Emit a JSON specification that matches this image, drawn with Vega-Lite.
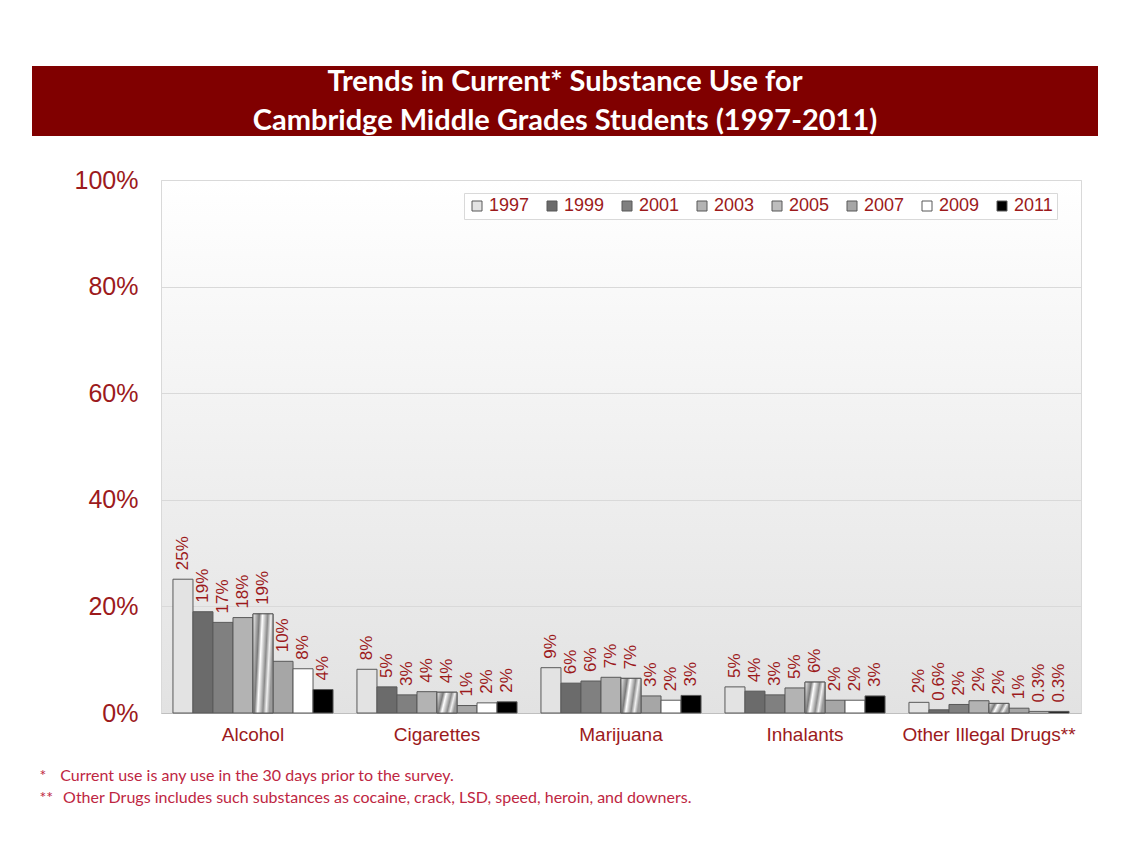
{
  "$schema": "https://vega.github.io/schema/vega-lite/v6.json",
  "background": "white",
  "padding": {"left": 32, "top": 66, "right": 0, "bottom": 0},
  "config": {"font": "Liberation Sans", "view": {"stroke": null}},
  "spacing": 31,
  "resolve": {"legend": {"color": "independent"}},
  "vconcat": [
    {
      "width": 1066,
      "height": 70,
      "view": {"fill": "#800000", "stroke": null},
      "data": {"values": [{"id": 1}]},
      "mark": {"type": "text", "font": "Lato", "fontWeight": "bold", "fontSize": 29, "color": "#ffffff", "lineHeight": 39, "baseline": "middle", "align": "center", "dy": -19},
      "encoding": {"text": {"value": ["Trends in Current* Substance Use for", "Cambridge Middle Grades Students (1997-2011)"]}}
    },
    {
      "spacing": 0,
      "resolve": {"legend": {"color": "independent"}},
      "hconcat": [
        {
          "width": 1,
          "height": 1,
          "view": {"stroke": null},
          "data": {"values": [{"id": 1}]},
          "mark": {"type": "point", "opacity": 0, "size": 0, "strokeWidth": 0}
        },
        {
          "width": 920,
          "height": 533,
          "view": {
            "fill": {"gradient": "linear", "x1": 0, "y1": 0, "x2": 0, "y2": 1, "stops": [{"offset": 0, "color": "#ffffff"}, {"offset": 1, "color": "#e2e2e2"}]},
            "stroke": "#d9d9d9"
          },
          "data": {"values": [
            {"substance": "Alcohol", "year": "1997", "value": 25.1, "label": "25%"},
            {"substance": "Alcohol", "year": "1999", "value": 19.0, "label": "19%"},
            {"substance": "Alcohol", "year": "2001", "value": 17.0, "label": "17%"},
            {"substance": "Alcohol", "year": "2003", "value": 17.9, "label": "18%"},
            {"substance": "Alcohol", "year": "2005", "value": 18.6, "label": "19%"},
            {"substance": "Alcohol", "year": "2007", "value": 9.7, "label": "10%"},
            {"substance": "Alcohol", "year": "2009", "value": 8.3, "label": "8%"},
            {"substance": "Alcohol", "year": "2011", "value": 4.4, "label": "4%"},
            {"substance": "Cigarettes", "year": "1997", "value": 8.2, "label": "8%"},
            {"substance": "Cigarettes", "year": "1999", "value": 4.9, "label": "5%"},
            {"substance": "Cigarettes", "year": "2001", "value": 3.4, "label": "3%"},
            {"substance": "Cigarettes", "year": "2003", "value": 4.0, "label": "4%"},
            {"substance": "Cigarettes", "year": "2005", "value": 3.9, "label": "4%"},
            {"substance": "Cigarettes", "year": "2007", "value": 1.4, "label": "1%"},
            {"substance": "Cigarettes", "year": "2009", "value": 1.9, "label": "2%"},
            {"substance": "Cigarettes", "year": "2011", "value": 2.1, "label": "2%"},
            {"substance": "Marijuana", "year": "1997", "value": 8.5, "label": "9%"},
            {"substance": "Marijuana", "year": "1999", "value": 5.6, "label": "6%"},
            {"substance": "Marijuana", "year": "2001", "value": 6.0, "label": "6%"},
            {"substance": "Marijuana", "year": "2003", "value": 6.7, "label": "7%"},
            {"substance": "Marijuana", "year": "2005", "value": 6.5, "label": "7%"},
            {"substance": "Marijuana", "year": "2007", "value": 3.2, "label": "3%"},
            {"substance": "Marijuana", "year": "2009", "value": 2.4, "label": "2%"},
            {"substance": "Marijuana", "year": "2011", "value": 3.3, "label": "3%"},
            {"substance": "Inhalants", "year": "1997", "value": 4.9, "label": "5%"},
            {"substance": "Inhalants", "year": "1999", "value": 4.1, "label": "4%"},
            {"substance": "Inhalants", "year": "2001", "value": 3.4, "label": "3%"},
            {"substance": "Inhalants", "year": "2003", "value": 4.7, "label": "5%"},
            {"substance": "Inhalants", "year": "2005", "value": 5.8, "label": "6%"},
            {"substance": "Inhalants", "year": "2007", "value": 2.4, "label": "2%"},
            {"substance": "Inhalants", "year": "2009", "value": 2.4, "label": "2%"},
            {"substance": "Inhalants", "year": "2011", "value": 3.2, "label": "3%"},
            {"substance": "Other Illegal Drugs**", "year": "1997", "value": 2.0, "label": "2%"},
            {"substance": "Other Illegal Drugs**", "year": "1999", "value": 0.6, "label": "0.6%"},
            {"substance": "Other Illegal Drugs**", "year": "2001", "value": 1.6, "label": "2%"},
            {"substance": "Other Illegal Drugs**", "year": "2003", "value": 2.3, "label": "2%"},
            {"substance": "Other Illegal Drugs**", "year": "2005", "value": 1.8, "label": "2%"},
            {"substance": "Other Illegal Drugs**", "year": "2007", "value": 0.9, "label": "1%"},
            {"substance": "Other Illegal Drugs**", "year": "2009", "value": 0.3, "label": "0.3%"},
            {"substance": "Other Illegal Drugs**", "year": "2011", "value": 0.3, "label": "0.3%"}
          ]},
          "encoding": {
            "x": {
              "field": "substance", "type": "nominal",
              "sort": ["Alcohol", "Cigarettes", "Marijuana", "Inhalants", "Other Illegal Drugs**"],
              "scale": {"paddingInner": 0.13, "paddingOuter": 0.065},
              "axis": {
                "labelAngle": 0, "ticks": false, "labelFontSize": 19, "labelColor": "#9c1a1c", "labelPadding": 12,
                "domainColor": "#bfbfbf",
                "title": ["*\u2003\u2009Current use is any use in the 30 days prior to the survey.", "**\u2002\u2009Other Drugs includes such substances as cocaine, crack, LSD, speed, heroin, and downers."],
                "titleAlign": "left", "titleAnchor": "start", "titleX": -122, "titleY": 54, "titleBaseline": "top",
                "titleFont": "Lato", "titleFontSize": 16, "titleFontWeight": "normal", "titleColor": "#be2642", "titleLineHeight": 22
              }
            },
            "xOffset": {"field": "year", "type": "nominal", "scale": {"paddingInner": 0, "paddingOuter": 0}},
            "y": {
              "field": "value", "type": "quantitative",
              "scale": {"domain": [0, 100]},
              "axis": {
                "values": [0, 20, 40, 60, 80, 100], "labelExpr": "datum.value + '%'",
                "grid": true, "gridColor": "#d9d9d9", "domain": false, "ticks": false,
                "labelFontSize": 25, "labelColor": "#9c1a1c", "labelPadding": 23, "title": null, "minExtent": 127
              }
            }
          },
          "layer": [
            {
              "mark": {"type": "bar", "stroke": "#595959", "strokeWidth": 1},
              "encoding": {
                "color": {
                  "field": "year", "type": "nominal",
                  "scale": {"domain": ["1997", "1999", "2001", "2003", "2005", "2007", "2009", "2011"], "range": ["#e3e3e3", "#6b6b6b", "#808080", "#b3b3b3", "#bdbdbd", "#a6a6a6", "#ffffff", "#000000"]},
                  "legend": {
                    "orient": "none", "legendX": 303, "legendY": 13, "direction": "horizontal", "columns": 8, "title": null,
                    "symbolType": "square", "symbolSize": 100, "symbolStrokeColor": "#595959", "symbolStrokeWidth": 1,
                    "labelFontSize": 18, "labelColor": "#9c1a1c", "labelOffset": 3, "columnPadding": 13, "padding": 4,
                    "fillColor": "#ffffff", "strokeColor": "#d9d9d9"
                  }
                }
              }
            },
            {
              "transform": [{"filter": "datum.year == '2005'"}],
              "mark": {
                "type": "bar", "stroke": "#595959", "strokeWidth": 1,
                "fill": {"gradient": "linear", "x1": 0, "y1": 0, "x2": 1, "y2": 0.25, "stops": [
                  {"offset": 0, "color": "#f2f2f2"}, {"offset": 0.3, "color": "#7a7a7a"}, {"offset": 0.45, "color": "#ffffff"},
                  {"offset": 0.7, "color": "#8a8a8a"}, {"offset": 0.85, "color": "#f0f0f0"}, {"offset": 1, "color": "#9a9a9a"}
                ]}
              }
            },
            {
              "mark": {"type": "text", "angle": 270, "align": "left", "baseline": "middle", "dx": 9, "fontSize": 17, "color": "#9c1a1c"},
              "encoding": {"text": {"field": "label"}}
            }
          ]
        }
      ]
    }
  ]
}
